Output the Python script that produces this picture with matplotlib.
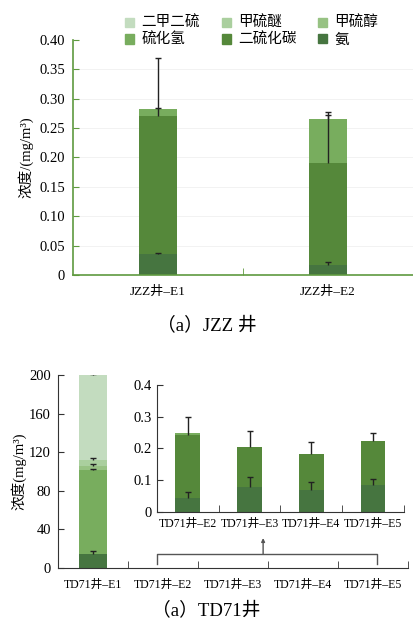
import matplotlib.pyplot as plt
import numpy as np
from matplotlib.patches import Patch

plt.rcParams['font.family'] = ['Liberation Serif', 'Noto Sans CJK SC']

# series, bottom-up stacking order
series = ['氨', '二硫化碳', '硫化氢', '甲硫醇', '甲硫醚', '二甲二硫']
colors = ['#467540', '#55883a', '#78ad5e', '#97c283', '#aacf9e', '#c3dcbf']

# JZZ well
jzz_cats = ['JZZ井–E1', 'JZZ井–E2']
jzz_vals = {
    '氨': [0.035, 0.017],
    '二硫化碳': [0.236, 0.174],
    '硫化氢': [0.012, 0.074],
    '甲硫醇': [0.0, 0.0],
    '甲硫醚': [0.0, 0.0],
    '二甲二硫': [0.0, 0.0],
}
jzz_err = {
    '氨': [0.003, 0.005],
    '二硫化碳': [0.099, 0.086],
    '硫化氢': [0.002, 0.007],
}

# TD71 well
td_cats = ['TD71井–E1', 'TD71井–E2', 'TD71井–E3', 'TD71井–E4', 'TD71井–E5']
td_vals = {
    '氨': [14.0, 0.044, 0.080, 0.069, 0.085],
    '二硫化碳': [0.2, 0.197, 0.126, 0.113, 0.137],
    '硫化氢': [87.0, 0.009, 0.0, 0.0, 0.0],
    '甲硫醇': [5.0, 0.0, 0.0, 0.0, 0.0],
    '甲硫醚': [6.0, 0.0, 0.0, 0.0, 0.0],
    '二甲二硫': [87.8, 0.0, 0.0, 0.0, 0.0],
}
td_err = {
    '氨': [4.0, 0.018, 0.030, 0.024, 0.018],
    '二硫化碳': [0.0, 0.059, 0.049, 0.038, 0.028],
    '硫化氢': [1.5, 0.0, 0.0, 0.0, 0.0],
    '甲硫醇': [1.5, 0.0, 0.0, 0.0, 0.0],
    '甲硫醚': [1.5, 0.0, 0.0, 0.0, 0.0],
    '二甲二硫': [1.0, 0.0, 0.0, 0.0, 0.0],
}


def stack(ax, x, vals, errs, width, idx):
    bottom = np.zeros(len(x))
    for name, c in zip(series, colors):
        v = np.array(vals[name])[idx]
        ax.bar(x, v, width, bottom=bottom, color=c, edgecolor='none', zorder=2)
        top = bottom + v
        if name in errs:
            e = np.array(errs[name])[idx]
            show = e > 0
            if show.any():
                _, caps, _ = ax.errorbar(x[show], top[show],
                                         yerr=[np.zeros(show.sum()), e[show]],
                                         fmt='none', ecolor='#222222', elinewidth=1.0,
                                         capsize=2, capthick=1.0, zorder=3)
                caps[0].set_visible(False)  # only the upper cap
        bottom = top


fig = plt.figure(figsize=(4.13, 6.33), dpi=100)

# ---- top panel
green = '#5f9a3f'
ax1 = fig.add_axes([0.177, 0.5656, 0.823, 0.3712])
x1 = np.arange(len(jzz_cats))
stack(ax1, x1, jzz_vals, jzz_err, 0.22, [0, 1])
ax1.set_xlim(-0.5, 1.5)
ax1.set_ylim(0, 0.40)
ax1.set_yticks(np.arange(0, 0.41, 0.05))
ax1.set_yticklabels(['0'] + ['%.2f' % v for v in np.arange(0.05, 0.41, 0.05)], fontsize=10.5)
for v in np.arange(0.05, 0.36, 0.05):
    ax1.axhline(v, color='#f0f0f0', lw=0.6, zorder=0)
ax1.set_xticks(x1)
ax1.set_xticklabels(jzz_cats, fontsize=9.5)
ax1.tick_params(axis='x', length=0, pad=8)
ax1.set_xticks([0.5], minor=True)
ax1.tick_params(axis='x', which='minor', direction='in', length=5, color=green)
ax1.tick_params(axis='y', direction='in', length=4, color=green, pad=6)
for s in ['top', 'right']:
    ax1.spines[s].set_visible(False)
for s in ['left', 'bottom']:
    ax1.spines[s].set_color(green)
    ax1.spines[s].set_linewidth(1.2)
ax1.set_ylabel('浓度/(mg/m³)', fontsize=10.5, labelpad=4)

# legend in row order: 二甲二硫 甲硫醚 甲硫醇 / 硫化氢 二硫化碳 氨
handles = {n: Patch(color=c, label=n) for n, c in zip(series, colors)}
leg_order = ['二甲二硫', '硫化氢', '甲硫醚', '二硫化碳', '甲硫醇', '氨']
fig.legend([handles[n] for n in leg_order], leg_order, ncol=3,
           loc='upper left', bbox_to_anchor=(0.272, 0.995), frameon=False,
           fontsize=10.5, handlelength=0.6, handleheight=0.6, handletextpad=0.5,
           columnspacing=1.5, labelspacing=0.2)

fig.text(0.5, 0.486, '（a）JZZ 井', ha='center', va='center', fontsize=13.5)

# ---- bottom panel
gray = '#333333'
ax2 = fig.add_axes([0.1404, 0.1027, 0.8476, 0.3049])
x2 = np.arange(len(td_cats))
stack(ax2, x2[:1], td_vals, td_err, 0.4, [0])
ax2.set_xlim(-0.5, 4.5)
ax2.set_ylim(0, 200)
ax2.set_yticks(np.arange(0, 201, 40))
ax2.tick_params(axis='y', direction='in', length=4, labelsize=10.5, color=gray, pad=5)
ax2.set_xticks(x2)
ax2.set_xticklabels(td_cats, fontsize=8.5)
ax2.tick_params(axis='x', length=0, pad=8)
ax2.set_xticks(np.arange(0.5, 4.6, 1), minor=True)
ax2.tick_params(axis='x', which='minor', direction='in', length=5, color=gray)
for s in ['top', 'right']:
    ax2.spines[s].set_visible(False)
for s in ['left', 'bottom']:
    ax2.spines[s].set_color(gray)
ax2.set_ylabel('浓度(mg/m³)', fontsize=10.5, labelpad=2)

# bracket + arrow pointing to inset
bx0, bx1, by0, by1 = 0.92, 4.06, 4, 14.5
ax2.plot([bx0, bx0, bx1, bx1], [by0, by1, by1, by0], color='#555555', lw=1.0, zorder=4)
ax2.annotate('', xy=(2.43, 31), xytext=(2.43, by1),
             arrowprops=dict(arrowstyle='-|>', color='#555555', lw=1.0,
                             mutation_scale=5, shrinkA=0, shrinkB=0))

# inset
ax3 = fig.add_axes([0.380, 0.1912, 0.598, 0.2006])
x3 = np.arange(4)
stack(ax3, x3, td_vals, td_err, 0.4, [1, 2, 3, 4])
ax3.set_xlim(-0.5, 3.5)
ax3.set_ylim(0, 0.4)
ax3.set_yticks([0, 0.1, 0.2, 0.3, 0.4])
ax3.set_yticklabels(['0', '0.1', '0.2', '0.3', '0.4'])
ax3.tick_params(axis='y', direction='in', length=4, labelsize=10.5, color=gray, pad=4)
ax3.set_xticks(x3)
ax3.set_xticklabels(td_cats[1:], fontsize=8.5)
ax3.tick_params(axis='x', length=0, pad=4)
ax3.set_xticks(np.arange(0.5, 3.6, 1), minor=True)
ax3.tick_params(axis='x', which='minor', direction='in', length=5, color=gray)
for s in ['top', 'right']:
    ax3.spines[s].set_visible(False)
for s in ['left', 'bottom']:
    ax3.spines[s].set_color(gray)
ax3.patch.set_alpha(0)

fig.text(0.5, 0.036, '（a）TD71井', ha='center', va='center', fontsize=13.5)

fig.savefig('out.png', dpi=100)
